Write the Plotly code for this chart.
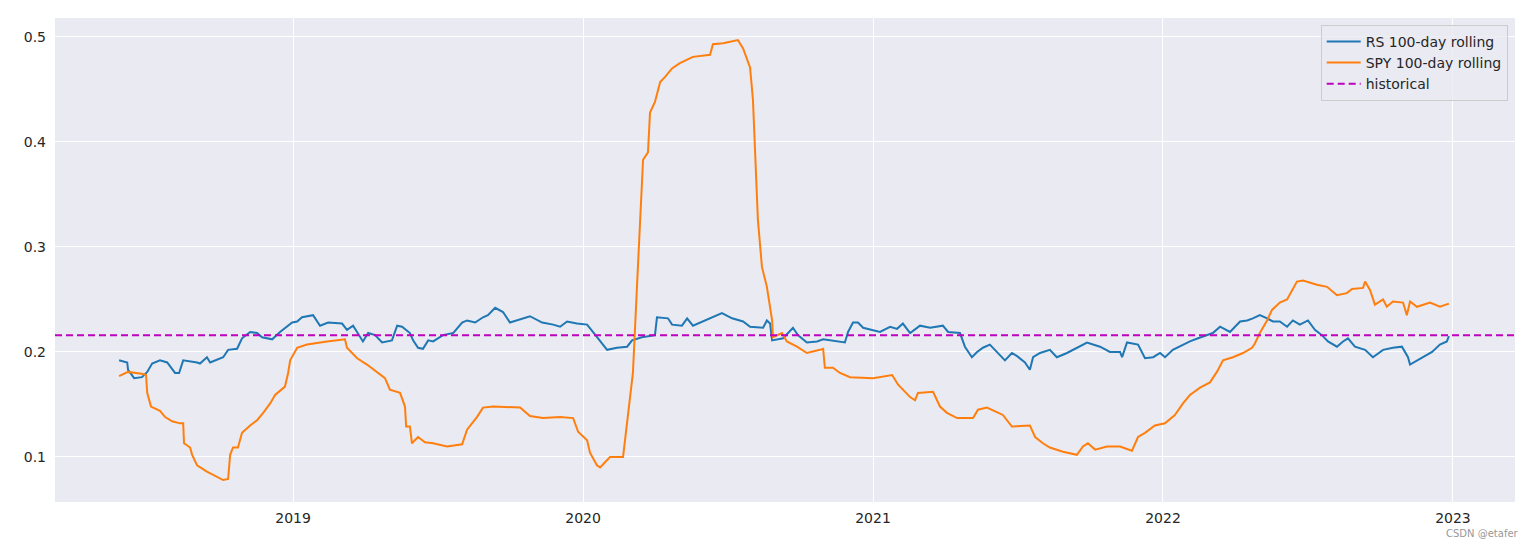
import plotly.graph_objects as go

# rolling volatility, x in decimal years
rs_t = [2018.400, 2018.428, 2018.431, 2018.452, 2018.479, 2018.497, 2018.514, 2018.541, 2018.566, 2018.593,
        2018.607, 2018.621, 2018.669, 2018.679, 2018.703, 2018.714, 2018.759, 2018.776, 2018.807, 2018.824,
        2018.852, 2018.876, 2018.893, 2018.928, 2018.955, 2018.997, 2019.014, 2019.031, 2019.069, 2019.093,
        2019.121, 2019.169, 2019.186, 2019.207, 2019.241, 2019.259, 2019.283, 2019.307, 2019.341, 2019.359,
        2019.376, 2019.403, 2019.414, 2019.431, 2019.448, 2019.466, 2019.483, 2019.517, 2019.552, 2019.583,
        2019.600, 2019.628, 2019.655, 2019.672, 2019.697, 2019.724, 2019.748, 2019.783, 2019.817, 2019.859,
        2019.897, 2019.921, 2019.945, 2019.979, 2020.014, 2020.034, 2020.059, 2020.083, 2020.117, 2020.152,
        2020.169, 2020.203, 2020.248, 2020.255, 2020.293, 2020.307, 2020.341, 2020.359, 2020.379, 2020.414,
        2020.448, 2020.479, 2020.514, 2020.552, 2020.576, 2020.621, 2020.634, 2020.645, 2020.652, 2020.690,
        2020.724, 2020.741, 2020.772, 2020.807, 2020.828, 2020.859, 2020.903, 2020.914, 2020.931, 2020.948,
        2020.966, 2021.024, 2021.059, 2021.083, 2021.103, 2021.128, 2021.162, 2021.197, 2021.241, 2021.259,
        2021.300, 2021.317, 2021.341, 2021.359, 2021.379, 2021.403, 2021.428, 2021.455, 2021.479, 2021.497,
        2021.524, 2021.541, 2021.552, 2021.576, 2021.610, 2021.634, 2021.669, 2021.703, 2021.738, 2021.783,
        2021.817, 2021.852, 2021.859, 2021.876, 2021.914, 2021.938, 2021.966, 2021.990, 2022.007, 2022.034,
        2022.069, 2022.093, 2022.121, 2022.152, 2022.172, 2022.197, 2022.231, 2022.266, 2022.290, 2022.310,
        2022.334, 2022.359, 2022.379, 2022.403, 2022.428, 2022.448, 2022.472, 2022.500, 2022.524, 2022.548,
        2022.569, 2022.600, 2022.621, 2022.638, 2022.662, 2022.697, 2022.724, 2022.759, 2022.793, 2022.824,
        2022.845, 2022.852, 2022.876, 2022.897, 2022.928, 2022.955, 2022.979, 2022.986]
rs_vol = [0.192, 0.190, 0.183, 0.175, 0.176, 0.181, 0.189, 0.192, 0.190, 0.180,
          0.180, 0.192, 0.190, 0.189, 0.195, 0.190, 0.195, 0.202, 0.203, 0.213,
          0.219, 0.218, 0.214, 0.212, 0.219, 0.228, 0.229, 0.233, 0.235, 0.225,
          0.228, 0.227, 0.221, 0.225, 0.210, 0.218, 0.216, 0.209, 0.211, 0.225,
          0.224, 0.218, 0.211, 0.204, 0.203, 0.211, 0.210, 0.216, 0.218, 0.228,
          0.230, 0.228, 0.233, 0.235, 0.242, 0.238, 0.228, 0.231, 0.234, 0.228,
          0.226, 0.224, 0.229, 0.227, 0.226, 0.219, 0.210, 0.202, 0.204, 0.205,
          0.211, 0.214, 0.216, 0.233, 0.232, 0.226, 0.225, 0.232, 0.225, 0.229,
          0.233, 0.237, 0.232, 0.229, 0.224, 0.223, 0.230, 0.227, 0.211, 0.213,
          0.223, 0.216, 0.209, 0.210, 0.212, 0.211, 0.209, 0.219, 0.228, 0.228,
          0.223, 0.219, 0.224, 0.222, 0.227, 0.218, 0.225, 0.223, 0.225, 0.219,
          0.218, 0.205, 0.195, 0.200, 0.204, 0.207, 0.200, 0.192, 0.199, 0.196,
          0.190, 0.183, 0.195, 0.199, 0.202, 0.195, 0.199, 0.204, 0.209, 0.205,
          0.200, 0.200, 0.195, 0.209, 0.207, 0.194, 0.195, 0.199, 0.195, 0.202,
          0.207, 0.210, 0.213, 0.216, 0.218, 0.224, 0.219, 0.229, 0.230, 0.232,
          0.235, 0.232, 0.229, 0.229, 0.224, 0.230, 0.226, 0.230, 0.221, 0.216,
          0.210, 0.205, 0.210, 0.213, 0.205, 0.202, 0.195, 0.202, 0.204, 0.205,
          0.195, 0.188, 0.192, 0.195, 0.200, 0.207, 0.210, 0.215]

spy_t = [2018.400, 2018.431, 2018.483, 2018.493, 2018.497, 2018.510, 2018.541, 2018.559, 2018.583, 2018.610,
         2018.621, 2018.624, 2018.645, 2018.652, 2018.669, 2018.703, 2018.759, 2018.776, 2018.783, 2018.793,
         2018.810, 2018.824, 2018.852, 2018.876, 2018.897, 2018.921, 2018.938, 2018.972, 2018.983, 2018.990,
         2019.014, 2019.048, 2019.117, 2019.179, 2019.186, 2019.221, 2019.255, 2019.290, 2019.317, 2019.334,
         2019.369, 2019.386, 2019.390, 2019.403, 2019.410, 2019.431, 2019.455, 2019.483, 2019.531, 2019.583,
         2019.600, 2019.634, 2019.655, 2019.690, 2019.748, 2019.783, 2019.817, 2019.862, 2019.921, 2019.966,
         2019.983, 2020.014, 2020.024, 2020.048, 2020.059, 2020.093, 2020.138, 2020.155, 2020.172, 2020.186,
         2020.197, 2020.207, 2020.224, 2020.231, 2020.248, 2020.266, 2020.283, 2020.307, 2020.334, 2020.379,
         2020.438, 2020.448, 2020.483, 2020.534, 2020.552, 2020.576, 2020.586, 2020.593, 2020.603, 2020.617,
         2020.634, 2020.652, 2020.655, 2020.686, 2020.703, 2020.738, 2020.772, 2020.817, 2020.828, 2020.834,
         2020.862, 2020.886, 2020.921, 2021.000, 2021.066, 2021.086, 2021.128, 2021.145, 2021.155, 2021.207,
         2021.231, 2021.255, 2021.290, 2021.345, 2021.362, 2021.393, 2021.448, 2021.479, 2021.541, 2021.559,
         2021.586, 2021.610, 2021.655, 2021.703, 2021.724, 2021.741, 2021.766, 2021.807, 2021.852, 2021.893,
         2021.914, 2021.938, 2021.972, 2022.007, 2022.041, 2022.069, 2022.093, 2022.128, 2022.162, 2022.186,
         2022.207, 2022.241, 2022.276, 2022.307, 2022.317, 2022.334, 2022.359, 2022.376, 2022.403, 2022.428,
         2022.445, 2022.462, 2022.483, 2022.531, 2022.566, 2022.600, 2022.634, 2022.652, 2022.690, 2022.697,
         2022.714, 2022.731, 2022.759, 2022.772, 2022.793, 2022.828, 2022.841, 2022.852, 2022.876, 2022.921,
         2022.955, 2022.986]
spy_vol = [0.177, 0.181, 0.179, 0.178, 0.161, 0.148, 0.144, 0.138, 0.134, 0.132,
           0.132, 0.113, 0.109, 0.102, 0.092, 0.086, 0.078, 0.079, 0.102, 0.109,
           0.109, 0.123, 0.130, 0.135, 0.142, 0.151, 0.159, 0.167, 0.180, 0.192,
           0.204, 0.207, 0.210, 0.212, 0.204, 0.194, 0.188, 0.181, 0.175, 0.164,
           0.161, 0.148, 0.129, 0.129, 0.113, 0.119, 0.114, 0.113, 0.110, 0.112,
           0.126, 0.138, 0.147, 0.148, 0.147, 0.147, 0.139, 0.137, 0.138, 0.137,
           0.124, 0.116, 0.104, 0.092, 0.090, 0.100, 0.100, 0.138, 0.180, 0.262,
           0.326, 0.383, 0.390, 0.428, 0.438, 0.457, 0.462, 0.470, 0.475, 0.481,
           0.483, 0.493, 0.494, 0.497, 0.489, 0.471, 0.440, 0.390, 0.326, 0.281,
           0.262, 0.230, 0.214, 0.218, 0.210, 0.205, 0.199, 0.202, 0.203, 0.185,
           0.185, 0.180, 0.176, 0.175, 0.178, 0.169, 0.157, 0.154, 0.161, 0.162,
           0.148, 0.142, 0.137, 0.137, 0.145, 0.147, 0.140, 0.129, 0.130, 0.119,
           0.113, 0.109, 0.105, 0.102, 0.110, 0.113, 0.107, 0.110, 0.110, 0.106,
           0.119, 0.123, 0.130, 0.132, 0.140, 0.151, 0.159, 0.166, 0.171, 0.181,
           0.192, 0.195, 0.199, 0.204, 0.208, 0.218, 0.230, 0.240, 0.247, 0.250,
           0.259, 0.267, 0.268, 0.264, 0.262, 0.254, 0.256, 0.260, 0.261, 0.267,
           0.259, 0.245, 0.250, 0.243, 0.248, 0.247, 0.235, 0.248, 0.243, 0.247,
           0.243, 0.246]

historical = 0.216
year_ticks = [2019, 2020, 2021, 2022, 2023]
vol_ticks = [0.1, 0.2, 0.3, 0.4, 0.5]

BLUE = "#1f77b4"
ORANGE = "#ff7f0e"
MAGENTA = "#bf00bf"
FONT = "DejaVu Sans"

fig = go.Figure()
fig.add_trace(go.Scatter(x=rs_t, y=rs_vol, mode="lines", name="RS 100-day rolling",
                         line=dict(color=BLUE, width=2)))
fig.add_trace(go.Scatter(x=spy_t, y=spy_vol, mode="lines", name="SPY 100-day rolling",
                         line=dict(color=ORANGE, width=2)))
# legend entry for the axhline
fig.add_trace(go.Scatter(x=[None], y=[None], mode="lines", name="historical",
                         line=dict(color=MAGENTA, width=2, dash="7px,4px")))
fig.add_hline(y=historical, line=dict(color=MAGENTA, width=2, dash="7px,4px"))

fig.add_annotation(text="CSDN @etafer", xref="paper", yref="paper", x=1.004, y=-0.066,
                   xanchor="right", yanchor="middle", showarrow=False,
                   font=dict(family=FONT, size=10, color="#999999"))

# page body has an 8px margin, so the figure is 16px smaller than the window
fig.update_layout(
    width=1520, height=532,
    margin=dict(l=47, r=13, t=10, b=38),
    paper_bgcolor="white",
    plot_bgcolor="#eaeaf2",
    font=dict(family=FONT, size=14, color="#262626"),
    showlegend=True,
    legend=dict(x=0.995, y=0.986, xanchor="right", yanchor="top",
                bgcolor="rgba(234,234,242,0.8)", bordercolor="#cccccc", borderwidth=1,
                font=dict(family=FONT, size=14, color="#262626"),
                tracegroupgap=0, itemwidth=34),
)
fig.update_xaxes(range=[2018.179, 2023.214], tickvals=year_ticks, ticktext=[str(y) for y in year_ticks],
                 showgrid=True, gridcolor="white", gridwidth=1, zeroline=False, showline=False,
                 ticks="", ticklabelstandoff=6)
fig.update_yaxes(range=[0.0571, 0.518], tickvals=vol_ticks, ticktext=[f"{v:.1f}" for v in vol_ticks],
                 showgrid=True, gridcolor="white", gridwidth=1, zeroline=False, showline=False,
                 ticks="", ticklabelstandoff=8)

fig.write_html("out.html")
